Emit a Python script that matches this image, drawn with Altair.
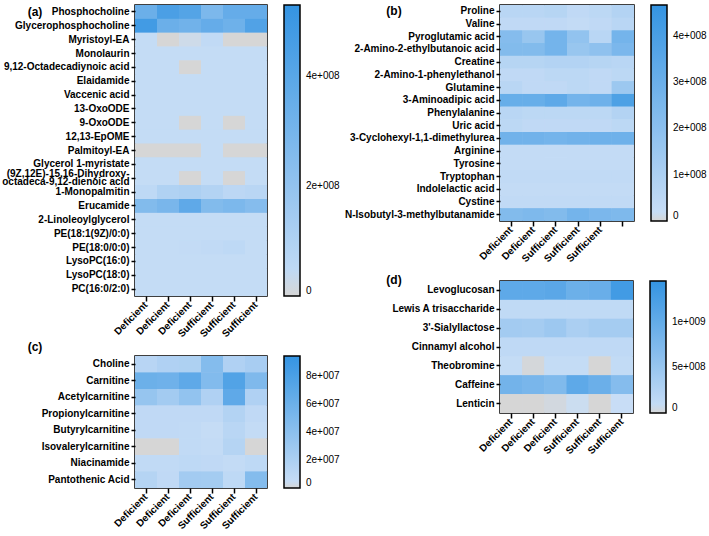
import altair as alt
import pandas as pd

cols = ["D1", "D2", "D3", "S1", "S2", "S3"]
xlabels_std = ["Deficient", "Deficient", "Deficient", "Sufficient", "Sufficient", "Sufficient"]
xlabels_b = ["Deficient", "Deficient", "Sufficient", "Sufficient", "Sufficient", ""]

# Panel (a) values in units of 1e8
a_rows = ["Phosphocholine", "Glycerophosphocholine", "Myristoyl-EA", "Monolaurin",
          "9,12-Octadecadiynoic acid", "Elaidamide", "Vaccenic acid", "13-OxoODE",
          "9-OxoODE", "12,13-EpOME", "Palmitoyl-EA", "Glycerol 1-myristate",
          "(9Z,12E)-15,16-Dihydroxy-|octadeca-9,12-dienoic acid", "1-Monopalmitin",
          "Erucamide", "2-Linoleoylglycerol", "PE(18:1(9Z)/0:0)", "PE(18:0/0:0)",
          "LysoPC(16:0)", "LysoPC(18:0)", "PC(16:0/2:0)"]
a_vals = [
    [3.4, 4.5, 4.2, 2.8, 3.6, 3.6],
    [4.8, 3.4, 3.2, 3.6, 3.3, 4.3],
    [0.3, 0.0, 0.08, 0.4, 0.0, 0.0],
    [0.3, 0.3, 0.3, 0.3, 0.3, 0.3],
    [0.3, 0.3, 0.0, 0.3, 0.3, 0.3],
    [0.3, 0.3, 0.3, 0.3, 0.3, 0.3],
    [0.3, 0.3, 0.3, 0.3, 0.3, 0.3],
    [0.3, 0.3, 0.3, 0.3, 0.3, 0.3],
    [0.3, 0.3, 0.0, 0.3, 0.0, 0.3],
    [0.3, 0.3, 0.3, 0.3, 0.3, 0.3],
    [0.0, 0.0, 0.0, 0.3, 0.0, 0.0],
    [0.3, 0.3, 0.3, 0.3, 0.3, 0.3],
    [0.3, 0.3, 0.0, 0.3, 0.0, 0.3],
    [0.5, 1.0, 1.1, 0.9, 0.6, 0.7],
    [2.6, 2.9, 3.8, 2.6, 2.8, 2.5],
    [0.3, 0.3, 0.3, 0.3, 0.3, 0.3],
    [0.3, 0.3, 0.3, 0.3, 0.3, 0.3],
    [0.3, 0.3, 0.35, 0.4, 0.5, 0.3],
    [0.3, 0.3, 0.3, 0.3, 0.3, 0.3],
    [0.3, 0.3, 0.3, 0.3, 0.3, 0.3],
    [0.3, 0.3, 0.3, 0.3, 0.3, 0.3],
]

# Panel (b) values in units of 1e8
b_rows = ["Proline", "Valine", "Pyroglutamic acid", "2-Amino-2-ethylbutanoic acid",
          "Creatine", "2-Amino-1-phenylethanol", "Glutamine", "3-Aminoadipic acid",
          "Phenylalanine", "Uric acid", "3-Cyclohexyl-1,1-dimethylurea", "Arginine",
          "Tyrosine", "Tryptophan", "Indolelactic acid", "Cystine",
          "N-Isobutyl-3-methylbutanamide"]
b_vals = [
    [0.6, 0.6, 0.7, 0.4, 0.5, 0.8],
    [0.4, 0.4, 0.4, 0.3, 0.4, 0.6],
    [2.2, 1.6, 2.7, 1.8, 0.6, 2.7],
    [2.3, 2.3, 2.7, 1.6, 1.9, 2.5],
    [0.7, 0.7, 0.8, 0.8, 0.7, 0.6],
    [0.4, 0.4, 0.5, 0.5, 0.4, 0.5],
    [0.6, 0.4, 0.4, 0.5, 0.4, 1.5],
    [3.1, 3.1, 3.4, 2.7, 2.9, 3.9],
    [0.6, 0.5, 0.5, 0.5, 0.5, 0.8],
    [0.5, 0.4, 0.4, 0.4, 0.4, 0.5],
    [2.8, 2.8, 2.7, 2.8, 2.9, 2.9],
    [0.3, 0.3, 0.3, 0.3, 0.3, 0.3],
    [0.3, 0.3, 0.3, 0.3, 0.3, 0.3],
    [0.35, 0.35, 0.35, 0.35, 0.35, 0.35],
    [0.3, 0.3, 0.3, 0.3, 0.3, 0.3],
    [0.35, 0.35, 0.35, 0.35, 0.35, 0.35],
    [2.3, 2.4, 2.3, 2.7, 2.5, 2.4],
]

# Panel (c) values in units of 1e7
c_rows = ["Choline", "Carnitine", "Acetylcarnitine", "Propionylcarnitine",
          "Butyrylcarnitine", "Isovalerylcarnitine", "Niacinamide", "Pantothenic Acid"]
c_vals = [
    [1.3, 1.8, 1.9, 4.5, 1.8, 2.3],
    [6.0, 5.8, 6.8, 4.6, 7.6, 4.8],
    [3.4, 2.6, 3.6, 1.8, 6.8, 1.8],
    [0.8, 0.8, 0.8, 0.8, 1.6, 0.8],
    [0.8, 0.8, 0.7, 0.5, 1.2, 0.6],
    [0.0, 0.0, 0.7, 0.6, 1.5, 0.0],
    [0.7, 0.7, 0.9, 0.8, 0.6, 0.9],
    [1.5, 0.8, 2.6, 2.5, 0.9, 4.5],
]

# Panel (d) values in units of 1e8
d_rows = ["Levoglucosan", "Lewis A trisaccharide", "3'-Sialyllactose", "Cinnamyl alcohol",
          "Theobromine", "Caffeine", "Lenticin"]
d_vals = [
    [10.5, 10.5, 10.8, 9.2, 9.5, 13.2],
    [1.2, 1.2, 1.2, 1.2, 1.2, 1.2],
    [4.0, 3.8, 4.5, 3.2, 3.8, 3.8],
    [1.3, 1.3, 1.3, 1.3, 1.3, 1.3],
    [0.8, 0.05, 0.8, 0.8, 0.0, 1.0],
    [8.5, 8.0, 7.3, 10.5, 9.3, 6.8],
    [0.0, 0.0, 0.1, 0.3, 0.0, 0.5],
]

GRAY = "#d6d6d6"
LIGHT = "#c9def6"
BLUE = "#3494e2"
FONT = "Liberation Sans"

legend_expr = ("datum.value == 0 ? '0' : "
               "round(datum.value / pow(10, floor(log(datum.value)/LN10 + 1e-9))) + 'e+00' + "
               "floor(log(datum.value)/LN10 + 1e-9)")


def panel(rows, vals, unit, vmax, width, height, xlabels, legend_vals, letter, lx, ly):
    recs = []
    for r, vs in zip(rows, vals):
        for c, v in zip(cols, vs):
            recs.append({"row": r, "col": c, "value": v * unit})
    df = pd.DataFrame(recs)
    col_list = "[" + ",".join("'%s'" % c for c in cols) + "]"
    lab_list = "[" + ",".join("'%s'" % l for l in xlabels) + "]"
    xexpr = "%s[indexof(%s, datum.value)]" % (lab_list, col_list)
    cscale = alt.Scale(domain=[0, vmax * 0.025, vmax], range=[GRAY, LIGHT, BLUE],
                       interpolate="rgb")

    base = alt.Chart(df).mark_rect().encode(
        x=alt.X("col:N", sort=cols, title=None,
                scale=alt.Scale(paddingInner=0, paddingOuter=0),
                axis=alt.Axis(labelAngle=315, labelAlign="right", labelBaseline="middle",
                              tickSize=5, labelPadding=2, labelExpr=xexpr)),
        y=alt.Y("row:N", sort=rows, title=None,
                scale=alt.Scale(paddingInner=0, paddingOuter=0),
                axis=alt.Axis(tickSize=4, labelPadding=2, labelLineHeight=7.5,
                              labelExpr="split(datum.label, '|')",
                              labelOffset={"condition": {"test": "indexof(datum.value, '|') >= 0",
                                                         "value": -3.75},
                                           "value": 0})),
        color=alt.Color("value:Q", scale=cscale,
                        legend=alt.Legend(title=None, orient="right", offset=17,
                                          direction="vertical", type="gradient",
                                          gradientLength=height, gradientThickness=16,
                                          gradientStrokeColor="black", gradientStrokeWidth=1.5,
                                          values=legend_vals, labelExpr=legend_expr,
                                          labelFont=FONT, labelFontSize=10, labelColor="black",
                                          labelBaseline="middle",
                                          labelOffset=6, padding=0)),
    )
    txt = alt.Chart(pd.DataFrame({"t": [letter]})).mark_text(
        font=FONT, fontWeight="bold", fontSize=12, align="center", baseline="middle",
        color="black"
    ).encode(text="t:N", x=alt.value(lx), y=alt.value(ly))
    return alt.layer(base, base, txt).properties(width=width, height=height)


A = panel(a_rows, a_vals, 1e8, 5.3e8, 132, 291, xlabels_std, [0, 2e8, 4e8], "(a)", -100, 7)
B = panel(b_rows, b_vals, 1e8, 4.67e8, 134, 216, xlabels_b, [0, 1e8, 2e8, 3e8, 4e8], "(b)", -106, 6)
C = panel(c_rows, c_vals, 1e7, 9.43e7, 132, 132, xlabels_std, [0, 2e7, 4e7, 6e7, 8e7], "(c)", -100, -9)
D = panel(d_rows, d_vals, 1e8, 14.5e8, 133, 132, xlabels_std, [0, 5e8, 1e9], "(d)", -106, -1)

left = alt.vconcat(A, C, spacing=0).resolve_scale(color="independent")
right = alt.vconcat(B, D, spacing=8).resolve_scale(color="independent")

chart = alt.hconcat(left, right, spacing=2).resolve_scale(
    color="independent"
).properties(
    padding={"left": 0, "top": 4, "right": 0, "bottom": 0}
).configure_view(
    stroke="black", strokeWidth=1.5, fill=LIGHT
).configure_axis(
    domain=False, tickColor="black", tickWidth=1.5, labelColor="black",
    labelFont=FONT, labelFontWeight="bold", labelFontSize=10, grid=False
).configure_legend(
    labelFont=FONT
)

chart.save("out.html", embed_options={"renderer": "svg", "actions": False})
